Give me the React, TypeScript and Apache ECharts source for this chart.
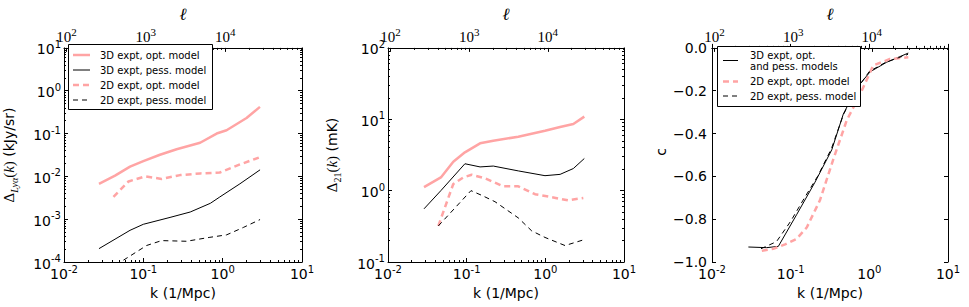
import React, { useEffect, useRef } from 'react';
import * as echarts from 'echarts';

// ---------------- data ----------------
const ELL_PER_K = 9300; // ℓ = k * distance (Mpc)
const K_MIN = 0.01;
const K_MAX = 10;

// tick labels
const kMajorTicks = [0.01, 0.1, 1, 10];
const ellMajorTicks = [100, 1000, 10000];

// Panel 1: Δ_Lyα(k)  (kJy/sr)
const kLya3dOpt = [0.0276, 0.044, 0.068, 0.1, 0.162, 0.263, 0.52, 0.84, 1.12, 2.0, 2.95];
const lya3dOpt = [0.0067, 0.0104, 0.0169, 0.0227, 0.032, 0.043, 0.061, 0.1, 0.119, 0.23, 0.42];
const kLya3dPess = [0.0276, 0.068, 0.1, 0.217, 0.39, 0.7, 0.92, 1.65, 2.96];
const lya3dPess = [2.05e-4, 5.5e-4, 7.6e-4, 1.1e-3, 1.47e-3, 2.35e-3, 3.3e-3, 6.7e-3, 0.0142];
const kLya2dOpt = [0.042, 0.065, 0.105, 0.17, 0.29, 0.52, 0.92, 1.65, 2.96];
const lya2dOpt = [0.00333, 0.0076, 0.01, 0.0087, 0.0107, 0.0117, 0.0123, 0.019, 0.028];
const kLya2dPess = [0.045, 0.11, 0.17, 0.35, 0.69, 1.12, 1.82, 2.96];
const lya2dPess = [8.5e-5, 2.43e-4, 3.16e-4, 3.05e-4, 3.77e-4, 4.3e-4, 6.4e-4, 9.8e-4];

// Panel 2: Δ_21(k)  (mK)
const k21_3dOpt = [0.0287, 0.047, 0.0676, 0.095, 0.148, 0.218, 0.453, 0.99, 1.54, 2.27, 3.13];
const d21_3dOpt = [1.12, 1.53, 2.54, 3.44, 4.6, 5.0, 5.7, 6.9, 7.8, 8.6, 10.9];
const k21_3dPess = [0.0287, 0.047, 0.095, 0.148, 0.218, 0.453, 0.99, 1.54, 2.27, 3.13];
const d21_3dPess = [0.556, 1.0, 2.38, 2.15, 2.21, 1.89, 1.62, 1.69, 2.04, 2.82];
const k21_2dOpt = [0.0436, 0.0676, 0.0906, 0.116, 0.171, 0.292, 0.453, 0.74, 1.2, 1.96, 3.04];
const d21_2dOpt = [0.32, 1.24, 1.53, 1.67, 1.49, 1.15, 1.15, 0.89, 0.81, 0.73, 0.79];
const k21_2dPess = [0.0436, 0.1135, 0.155, 0.229, 0.453, 0.671, 0.99, 1.78, 3.13];
const d21_2dPess = [0.32, 1.0, 0.86, 0.7, 0.415, 0.273, 0.221, 0.17, 0.206];

// Panel 3: correlation coefficient c
const kC3d = [0.029, 0.0496, 0.0697, 0.119, 0.204, 0.333, 0.467, 0.69, 1.02, 1.66, 3.13];
const c3d = [-0.93, -0.933, -0.927, -0.779, -0.627, -0.476, -0.309, -0.188, -0.112, -0.067, -0.024];
const kC2dOpt = [0.043, 0.06, 0.085, 0.119, 0.16, 0.236, 0.348, 0.515, 0.76, 1.12, 1.83, 3.13];
const c2dOpt = [-0.948, -0.938, -0.918, -0.892, -0.839, -0.711, -0.521, -0.339, -0.218, -0.082, -0.052, -0.044];
const kC2dPess = [0.042, 0.066, 0.1, 0.15, 0.22, 0.33, 0.47, 0.7, 1.0, 1.6, 3.1];
const c2dPess = [-0.938, -0.905, -0.81, -0.7, -0.6, -0.47, -0.31, -0.19, -0.11, -0.068, -0.03];

const NAME_3D_OPT = '3D expt, opt. model';
const NAME_3D_PESS = '3D expt, pess. model';
const NAME_2D_OPT = '2D expt, opt. model';
const NAME_2D_PESS = '2D expt, pess. model';
const NAME_3D_BOTH = '3D expt, opt.\nand pess. models';
const C_AXIS_TITLE = 'c';

// ---------------- styling ----------------
const SANS = 'DejaVu Sans';
const SERIF = 'Liberation Serif';
const PINK = '#ffa4a4';
const BLACK = '#000000';
const PINK_W = 2.5;
const BLACK_W = 1;
const PINK_DASH = [6, 4];
const BLACK_DASH = [5, 4];

const GRID_TOP = 42;
const GRID_H = 220;
const panels = [
  { left: 64, width: 238 },
  { left: 388, width: 236 },
  { left: 712, width: 236 },
];

function minorLogTicks(lo: number, hi: number): number[] {
  const out: number[] = [];
  for (let e = Math.floor(Math.log10(lo)); e < Math.ceil(Math.log10(hi)); e++) {
    for (let m = 2; m <= 9; m++) {
      const v = Number((m * Math.pow(10, e)).toPrecision(6));
      if (v >= lo && v <= hi) out.push(v);
    }
  }
  return out;
}

const zip = (xs: number[], ys: number[]) => xs.map((x, i) => [x, ys[i]]);

const sansRich = {
  b: { fontSize: 14, fontFamily: SANS, color: '#000', verticalAlign: 'bottom' },
  s: { fontSize: 10, fontFamily: SANS, color: '#000', verticalAlign: 'bottom', padding: [0, 0, 7, 0] },
};
const serifRich = {
  b: { fontSize: 15, fontFamily: SERIF, color: '#000', verticalAlign: 'bottom' },
  s: { fontSize: 11, fontFamily: SERIF, color: '#000', verticalAlign: 'bottom', padding: [0, 0, 7, 0] },
};
const powLabel = (v: number) => `{b|10}{s|${Math.round(Math.log10(v))}}`;

const tickLine = { lineStyle: { color: '#000', width: 1 } };
const axisLineStyle = { show: true, lineStyle: { color: '#000', width: 1 } };

function buildXAxes(p: number) {
  const ellMin = K_MIN * ELL_PER_K;
  const ellMax = K_MAX * ELL_PER_K;
  return [
    {
      type: 'log', gridIndex: p, position: 'bottom', min: K_MIN, max: K_MAX, logBase: 10,
      axisLine: axisLineStyle,
      axisTick: { inside: true, length: 4, customValues: kMajorTicks, ...tickLine },
      axisLabel: { customValues: kMajorTicks, formatter: powLabel, rich: sansRich, margin: 2, color: '#000' },
      splitLine: { show: false },
      name: 'k (1/Mpc)', nameLocation: 'middle', nameGap: 23,
      nameTextStyle: { fontSize: 14, fontFamily: SANS, color: '#000' },
    },
    {
      type: 'log', gridIndex: p, position: 'bottom', min: K_MIN, max: K_MAX, logBase: 10,
      axisLine: { show: false },
      axisTick: { inside: true, length: 2, customValues: minorLogTicks(K_MIN, K_MAX), ...tickLine },
      axisLabel: { show: false }, splitLine: { show: false },
    },
    {
      type: 'log', gridIndex: p, position: 'top', min: ellMin, max: ellMax, logBase: 10,
      axisLine: axisLineStyle,
      axisTick: { inside: true, length: 4, customValues: ellMajorTicks, ...tickLine },
      axisLabel: { customValues: ellMajorTicks, formatter: powLabel, rich: serifRich, margin: 3, color: '#000' },
      splitLine: { show: false },
      name: '{l|ℓ}', nameLocation: 'middle', nameGap: 22,
      nameTextStyle: { rich: { l: { fontSize: 17, fontFamily: 'DejaVu Serif', fontStyle: 'italic', color: '#000' } } },
    },
    {
      type: 'log', gridIndex: p, position: 'top', min: ellMin, max: ellMax, logBase: 10,
      axisLine: { show: false },
      axisTick: { inside: true, length: 2, customValues: minorLogTicks(ellMin, ellMax), ...tickLine },
      axisLabel: { show: false }, splitLine: { show: false },
    },
  ];
}

function buildLogYAxes(p: number, lo: number, hi: number, name: string, nameRich: any, nameGap: number) {
  const major: number[] = [];
  for (let e = Math.round(Math.log10(lo)); e <= Math.round(Math.log10(hi)); e++) major.push(Number(Math.pow(10, e).toPrecision(6)));
  const minor = minorLogTicks(lo, hi);
  const base = { type: 'log', gridIndex: p, min: lo, max: hi, logBase: 10, splitLine: { show: false } };
  return [
    {
      ...base, position: 'left',
      axisLine: axisLineStyle,
      axisTick: { inside: true, length: 4, customValues: major, ...tickLine },
      axisLabel: { customValues: major, formatter: powLabel, rich: sansRich, margin: 3, color: '#000' },
      name, nameLocation: 'middle', nameGap, nameRotate: 90,
      nameTextStyle: { rich: nameRich },
    },
    { ...base, position: 'left', axisLine: { show: false }, axisTick: { inside: true, length: 2, customValues: minor, ...tickLine }, axisLabel: { show: false } },
    { ...base, position: 'right', axisLine: axisLineStyle, axisTick: { inside: true, length: 4, customValues: major, ...tickLine }, axisLabel: { show: false } },
    { ...base, position: 'right', axisLine: { show: false }, axisTick: { inside: true, length: 2, customValues: minor, ...tickLine }, axisLabel: { show: false } },
  ];
}

const nameRichBase = {
  t: { fontSize: 14, fontFamily: SANS, color: '#000', verticalAlign: 'bottom', padding: [0, 0, 3, 0] },
  d: { fontSize: 15, fontFamily: SERIF, color: '#000', verticalAlign: 'bottom', padding: [0, 0, 3, 0] },
  i: { fontSize: 15, fontFamily: SERIF, fontStyle: 'italic', color: '#000', verticalAlign: 'bottom', padding: [0, 0, 3, 0] },
  sub: { fontSize: 10, fontFamily: SERIF, fontStyle: 'italic', color: '#000', verticalAlign: 'bottom' },
  subr: { fontSize: 10, fontFamily: SERIF, color: '#000', verticalAlign: 'bottom' },
};

function lineSeries(name: string, xs: number[], ys: number[], p: number, yIdx: number, color: string, width: number, dash: number[] | null) {
  return {
    type: 'line', name, xAxisIndex: p * 4, yAxisIndex: yIdx, z: 2,
    data: zip(xs, ys), symbol: 'none', showSymbol: false, smooth: false, clip: true,
    lineStyle: { color, width, type: dash ? dash : 'solid' },
    itemStyle: { color },
    emphasis: { disabled: true },
    silent: true,
  };
}

type LegendRow = { lines: string[]; color: string; width: number; dash: number[] | null };

function legendGraphic(x: number, y: number, w: number, h: number, rows: LegendRow[], rowYs: number[], lineX1: number, lineX2: number, textX: number, lineH: number) {
  const Z = 100;
  const children: any[] = [
    { type: 'rect', z: Z, shape: { x: x + 0.5, y: y + 0.5, width: w, height: h }, style: { fill: '#fff', stroke: '#000', lineWidth: 1 } },
  ];
  rows.forEach((r, i) => {
    const cy = rowYs[i];
    children.push({
      type: 'line', z: Z + 1, shape: { x1: lineX1, y1: cy, x2: lineX2, y2: cy },
      style: { stroke: r.color, lineWidth: r.width, lineDash: r.dash || undefined },
    });
    const n = r.lines.length;
    r.lines.forEach((t, j) => {
      children.push({
        type: 'text', z: Z + 1, x: textX, y: cy + (j - (n - 1) / 2) * lineH,
        style: { text: t, font: `10px "${SANS}"`, fill: '#000', verticalAlign: 'middle', align: 'left' },
      });
    });
  });
  return { type: 'group', z: Z, silent: true, children };
}

export default function App() {
  const ref = useRef<HTMLDivElement>(null);
  useEffect(() => {
    if (!ref.current) return;
    const chart = echarts.init(ref.current, undefined, { renderer: 'svg' });
    const xAxes = [0, 1, 2].flatMap((p) => buildXAxes(p));
    const yAxes: any[] = [
      ...buildLogYAxes(0, 1e-4, 10, '{d|Δ}{sub|Lyα}{d|(}{i|k}{d|)}{t| (kJy/sr)}', nameRichBase, 45),
      ...buildLogYAxes(1, 0.1, 100, '{d|Δ}{subr|21}{d|(}{i|k}{d|)}{t| (mK)}', nameRichBase, 46),
      {
        type: 'value', gridIndex: 2, position: 'left', min: -1, max: 0, interval: 0.2,
        axisLine: axisLineStyle, axisTick: { inside: true, length: 4, ...tickLine },
        axisLabel: {
          margin: 5, color: '#000', fontSize: 14, fontFamily: SANS,
          formatter: (v: number) => (Math.abs(v) < 1e-9 ? '0.0' : '\u2212' + Math.abs(v).toFixed(1)),
        },
        splitLine: { show: false },
      },
      {
        type: 'value', gridIndex: 2, position: 'right', min: -1, max: 0, interval: 0.2,
        axisLine: axisLineStyle, axisTick: { inside: true, length: 4, ...tickLine },
        axisLabel: { show: false }, splitLine: { show: false },
      },
    ];
    const series = [
      lineSeries(NAME_3D_OPT, kLya3dOpt, lya3dOpt, 0, 0, PINK, PINK_W, null),
      lineSeries(NAME_3D_PESS, kLya3dPess, lya3dPess, 0, 0, BLACK, BLACK_W, null),
      lineSeries(NAME_2D_OPT, kLya2dOpt, lya2dOpt, 0, 0, PINK, PINK_W, PINK_DASH),
      lineSeries(NAME_2D_PESS, kLya2dPess, lya2dPess, 0, 0, BLACK, BLACK_W, BLACK_DASH),

      lineSeries(NAME_3D_OPT, k21_3dOpt, d21_3dOpt, 1, 4, PINK, PINK_W, null),
      lineSeries(NAME_3D_PESS, k21_3dPess, d21_3dPess, 1, 4, BLACK, BLACK_W, null),
      lineSeries(NAME_2D_OPT, k21_2dOpt, d21_2dOpt, 1, 4, PINK, PINK_W, PINK_DASH),
      lineSeries(NAME_2D_PESS, k21_2dPess, d21_2dPess, 1, 4, BLACK, BLACK_W, BLACK_DASH),

      lineSeries(NAME_3D_BOTH, kC3d, c3d, 2, 8, BLACK, BLACK_W, null),
      lineSeries(NAME_2D_OPT, kC2dOpt, c2dOpt, 2, 8, PINK, PINK_W, PINK_DASH),
      lineSeries(NAME_2D_PESS, kC2dPess, c2dPess, 2, 8, BLACK, BLACK_W, BLACK_DASH),
    ];
    const legend1: LegendRow[] = [
      { lines: [NAME_3D_OPT], color: PINK, width: PINK_W, dash: null },
      { lines: [NAME_3D_PESS], color: BLACK, width: BLACK_W, dash: null },
      { lines: [NAME_2D_OPT], color: PINK, width: PINK_W, dash: PINK_DASH },
      { lines: [NAME_2D_PESS], color: BLACK, width: BLACK_W, dash: BLACK_DASH },
    ];
    const legend3: LegendRow[] = [
      { lines: NAME_3D_BOTH.split('\n'), color: BLACK, width: BLACK_W, dash: null },
      { lines: [NAME_2D_OPT], color: PINK, width: PINK_W, dash: PINK_DASH },
      { lines: [NAME_2D_PESS], color: BLACK, width: BLACK_W, dash: BLACK_DASH },
    ];
    chart.setOption({
      animation: false,
      backgroundColor: '#fff',
      textStyle: { fontFamily: SANS },
      grid: panels.map((g) => ({ left: g.left, top: GRID_TOP, width: g.width, height: GRID_H, containLabel: false })),
      xAxis: xAxes,
      yAxis: yAxes,
      series,
      graphic: {
        elements: [
          legendGraphic(68, 44, 144, 65, legend1, [55, 70, 85, 100], 73, 90, 100, 11),
          legendGraphic(717, 46, 143, 60, legend3, [60.5, 81.5, 96], 723, 738, 750, 11),
          {
            type: 'text', x: 660.5, y: GRID_TOP + GRID_H / 2, rotation: Math.PI / 2, silent: true,
            style: { text: C_AXIS_TITLE, font: `14px "${SANS}"`, fill: '#000', align: 'center', verticalAlign: 'middle' },
          },
        ],
      },
    });
    return () => chart.dispose();
  }, []);
  return <div ref={ref} style={{ position: 'fixed', left: 0, top: 0, width: 969, height: 307 }} />;
}
